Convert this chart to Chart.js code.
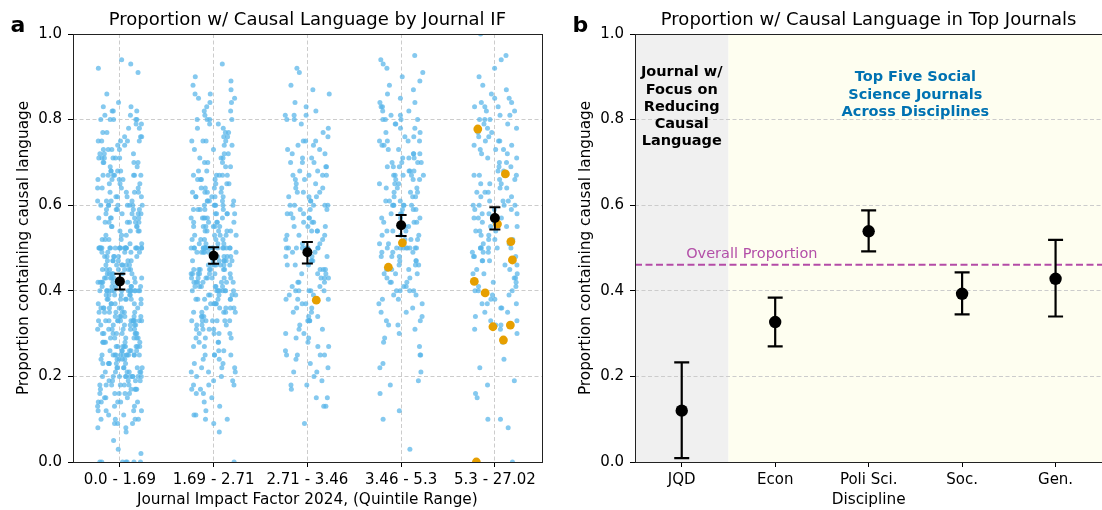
<!DOCTYPE html>
<html>
<head>
<meta charset="utf-8">
<script src="https://cdn.jsdelivr.net/npm/chart.js@4.4.1/dist/chart.umd.min.js"></script>
<style>
  html, body { margin: 0; padding: 0; background: #fff; width: 1102px; height: 510px; overflow: hidden; }
  canvas { position: absolute; top: 0; }
  #panelA { left: 0; }
  #panelB { left: 562px; }
</style>
</head>
<body>
<canvas id="panelA" width="550" height="510"></canvas>
<canvas id="panelB" width="550" height="510"></canvas>
<script>
/* ==============================
   DATA
================================ */
const impactBins = ["0.0 - 1.69", "1.69 - 2.71", "2.71 - 3.46", "3.46 - 5.3", "5.3 - 27.02"];
const yTicks = [0, 0.2, 0.4, 0.6, 0.8, 1.0];

// per-journal proportion (in %) for each impact-factor quintile
const bin0 = [0,0,0,0,0,0,0,2,3,5,
  7,8,8,9,9,9,10,10,10,10,11,11,12,12,12,13,13,13,
  14,14,14,14,15,15,15,16,16,16,16,17,17,17,17,17,18,18,18,18,18,19,19,19,19,
  20,20,20,20,20,20,20,20,20,21,21,21,21,21,22,22,22,22,22,23,23,23,23,23,24,24,24,24,
  25,25,25,25,25,25,25,25,25,25,25,26,26,26,26,26,27,27,27,27,27,27,27,28,28,28,28,28,29,29,29,29,29,
  30,30,30,30,30,30,30,31,31,31,31,31,32,32,32,32,32,33,33,33,33,33,33,33,33,33,33,33,33,34,34,34,34,34,
  35,35,35,35,35,35,36,36,36,36,36,36,37,37,37,37,37,38,38,38,38,38,38,39,39,39,39,39,
  40,40,40,40,40,40,40,40,40,40,40,40,40,40,41,41,41,41,41,42,42,42,42,42,42,43,43,43,43,43,43,
  44,44,44,44,44,45,45,45,45,45,45,46,46,46,46,46,47,47,47,47,47,48,48,48,48,48,49,49,49,49,
  50,50,50,50,50,50,50,50,50,50,50,50,50,50,50,50,50,50,50,50,50,50,
  51,51,52,52,52,53,53,53,54,54,54,55,55,55,55,56,56,56,56,56,57,57,57,57,58,58,58,58,58,59,59,59,59,
  60,60,60,60,60,60,60,60,61,61,61,62,62,62,62,63,63,63,64,64,64,65,65,65,66,66,66,67,67,67,67,67,67,67,68,68,68,69,69,
  70,70,70,70,71,71,71,71,71,72,72,72,73,73,73,74,74,75,75,75,75,75,76,76,77,77,78,78,79,79,
  80,80,80,80,80,81,81,82,82,82,83,83,84,86,91,92,93,94,
  12,14,16,18,19,20,21,22,23,24,25,26,27,28,29,30,31,32,33,34,35,36,37,38,39,
  40,41,42,43,44,45,46,47,48,49,52,54,56,57,59,61,63,64,66,68,71,73,76];
const bin1 = [0,7,9,10,10,11,11,
  12,13,14,15,16,16,17,17,18,18,18,19,19,
  20,20,21,21,21,22,22,22,23,23,24,24,25,25,25,25,26,26,27,27,28,28,28,29,29,29,
  30,30,30,30,31,31,31,32,32,32,33,33,33,33,33,33,34,34,34,35,35,35,35,36,36,36,36,37,37,37,37,38,38,38,38,38,39,39,39,39,
  40,40,40,40,40,40,40,40,40,41,41,41,41,41,42,42,42,42,42,42,43,43,43,43,43,43,44,44,44,44,44,44,
  45,45,45,45,45,45,46,46,46,46,46,46,47,47,47,47,47,47,48,48,48,48,48,49,49,49,49,49,
  50,50,50,50,50,50,50,50,50,50,50,50,50,50,50,50,50,50,
  51,51,51,52,52,52,52,53,53,53,53,54,54,54,54,55,55,55,55,55,56,56,56,56,57,57,57,57,57,58,58,58,58,59,59,59,59,
  60,60,60,60,60,60,61,61,61,61,62,62,62,62,63,63,63,64,64,64,65,65,65,66,66,66,67,67,67,67,67,68,68,69,69,
  70,70,70,71,71,71,72,72,73,73,74,74,75,75,75,75,76,76,77,77,78,78,79,79,
  80,80,80,80,81,82,82,83,84,84,85,85,86,86,87,88,89,90,93,
  31,33,35,36,37,38,39,41,42,43,44,45,46,47,48,49,51,52,53,54,55,56,57,58,59,61,62,63,64,66];
const bin2 = [9,13,13,15,15,17,18,18,19,
  20,21,21,22,23,24,25,25,25,25,26,27,27,28,29,29,
  30,30,31,31,32,33,33,33,33,34,34,35,35,36,36,37,37,38,38,38,39,39,
  40,40,40,40,40,41,41,42,42,42,43,43,43,44,44,44,45,45,45,46,46,46,47,47,47,48,48,48,49,49,
  50,50,50,50,50,50,50,50,
  51,51,52,52,53,53,53,54,54,54,55,55,55,56,56,56,57,57,57,58,58,58,59,59,59,
  60,60,60,60,60,61,61,62,62,62,63,63,63,64,64,65,65,66,66,67,67,67,67,68,68,69,69,
  70,70,70,71,71,72,72,73,73,74,74,75,75,75,76,77,78,79,
  80,80,81,81,81,82,83,84,86,87,88,91,92];
const bin3 = [3,10,12,16,18,19,
  21,22,23,25,25,27,28,29,
  30,31,32,32,33,33,34,35,35,36,37,37,38,38,39,39,
  40,40,40,40,41,41,42,42,42,43,43,44,44,44,45,45,45,46,46,46,47,47,47,48,48,48,49,49,49,
  50,50,50,50,50,50,50,50,50,
  51,51,52,52,52,53,53,53,54,54,54,55,55,55,55,56,56,56,57,57,57,58,58,58,59,59,59,
  60,60,60,60,60,60,61,61,61,62,62,62,63,63,63,64,64,64,65,65,65,66,66,66,67,67,67,67,67,68,68,68,69,69,69,
  70,70,70,70,71,71,71,72,72,72,73,73,74,74,75,75,75,75,76,76,77,77,78,78,79,79,
  80,80,80,80,81,81,82,82,83,83,84,84,85,86,87,88,89,
  90,91,92,93,94,95];
const bin4 = [0,8,10,10,15,16,18,19,
  22,24,28,
  30,31,31,32,32,33,33,34,35,35,36,36,37,37,37,38,38,39,39,
  40,40,40,41,41,42,42,43,43,44,44,44,45,45,46,46,47,47,47,48,48,48,49,49,49,
  50,50,50,50,50,50,
  51,51,52,52,52,53,53,54,54,54,55,55,55,56,56,57,57,57,58,58,58,59,59,59,
  60,60,60,60,61,61,61,62,62,63,63,63,64,64,65,65,65,66,66,67,67,67,67,68,68,69,69,
  70,70,71,71,72,72,73,73,73,74,74,75,75,75,76,76,77,77,78,78,79,79,
  80,80,80,81,81,82,82,83,83,83,84,84,85,85,86,87,88,
  90,92,94,95,100];

// highlighted (orange) journals, in %
const orange0 = [];
const orange1 = [];
const orange2 = [37.8];
const orange3 = [51.2, 45.5];
const orange4 = [77.8, 67.3, 55.6, 51.5, 47.2, 42.2, 39.5, 32.0, 31.6, 28.5, 0];

// mean and 95% CI per quintile
const binMean = [0.422, 0.482, 0.490, 0.553, 0.570];
const binLow  = [0.403, 0.463, 0.464, 0.528, 0.543];
const binHigh = [0.440, 0.502, 0.514, 0.577, 0.595];

// panel b
const disciplines = ["JQD", "Econ", "Poli Sci.", "Soc.", "Gen."];
const discMean = [0.120, 0.327, 0.539, 0.393, 0.428];
const discLow  = [0.009, 0.270, 0.492, 0.345, 0.340];
const discHigh = [0.233, 0.384, 0.588, 0.443, 0.519];
const overallProportion = 0.461;

/* ==============================
   STYLE HELPERS
================================ */
Chart.defaults.font.family = "'DejaVu Sans', sans-serif";
Chart.defaults.color = "#000";
Chart.defaults.animation = false;

const GRID = "#cccccc";
const DASH = [4, 2.5];

// sideways scatter of the strip plot (fixed integer hash, so the picture is stable)
function spread(i, k) {
    let n = (i * 7919 + k * 104729 + 12345) | 0;
    n = (n ^ 61) ^ (n >>> 16);
    n = n + (n << 3);
    n = n ^ (n >>> 4);
    n = Math.imul(n, 0x27d4eb2d);
    n = n ^ (n >>> 15);
    return ((n >>> 0) / 4294967296 - 0.5) * 0.48;
}

function yAxis() {
    return {
        type: "linear", min: 0, max: 1,
        afterBuildTicks: s => { s.ticks = yTicks.map(v => ({ value: v })); },
        afterFit: s => { s.width = 73; },
        ticks: { callback: v => v.toFixed(1), font: { size: 15 }, padding: 6 },
        grid: {
            color: c => (c.tick && (c.tick.value === 0 || c.tick.value === 1)) ? "rgba(0,0,0,0)" : GRID,
            borderDash: DASH, tickLength: 5, tickColor: "#000", tickWidth: 1, tickBorderDash: []
        },
        border: { display: false, dash: DASH },
        title: {
            display: true, text: "Proportion containing causal language",
            font: { size: 15.3 }, padding: { top: 15, bottom: 0 }
        }
    };
}

function xAxis(labels, title, vgrid) {
    return {
        type: "linear", min: -0.5, max: 4.5,
        afterBuildTicks: s => { s.ticks = labels.map((l, i) => ({ value: i })); },
        afterFit: s => { s.height = 48; },
        ticks: { callback: v => labels[v], autoSkip: false, maxRotation: 0, font: { size: 15 }, padding: 4 },
        grid: {
            color: GRID, drawOnChartArea: vgrid, borderDash: DASH,
            tickLength: 5, tickColor: "#000", tickWidth: 1, tickBorderDash: []
        },
        border: { display: false, dash: DASH },
        title: { display: true, text: title, font: { size: 15.3 }, padding: { top: 0, bottom: 1 } }
    };
}

function errorBars(means, lows, highs, cap, width) {
    return means.map((m, i) => ({
        type: "line",
        data: [{ x: i, y: lows[i] }, { x: i, y: highs[i] }],
        borderColor: "#000", borderWidth: width,
        pointStyle: "line", pointRadius: cap, pointBorderWidth: width,
        pointBorderColor: "#000", pointBackgroundColor: "#000",
        order: 1
    }));
}

function meanDots(means, r) {
    return {
        type: "scatter",
        data: means.map((m, i) => ({ x: i, y: m })),
        pointRadius: r, backgroundColor: "#000", pointBorderWidth: 0, borderWidth: 0,
        order: 0
    };
}

function titleOpts(text) {
    return {
        display: true, fullSize: false, text: text,
        font: { size: 18, weight: "normal" }, padding: { top: 9.4, bottom: 3 }
    };
}

/* ==============================
   PLUGINS
================================ */
const frame = {
    id: "frame",
    afterDatasetsDraw(chart) {
        const { ctx, chartArea: a } = chart;
        ctx.save();
        ctx.strokeStyle = "#222";
        ctx.lineWidth = 1;
        ctx.strokeRect(Math.round(a.left) + 0.5, Math.round(a.top) + 0.5,
            Math.round(a.right - a.left), Math.round(a.bottom - a.top));
        ctx.restore();
    }
};

function letter(txt) {
    return {
        id: "letter" + txt,
        afterDraw(chart) {
            const ctx = chart.ctx;
            ctx.save();
            ctx.font = "bold 22px 'DejaVu Sans'";
            ctx.fillStyle = "#000";
            ctx.textBaseline = "alphabetic";
            ctx.fillText(txt, 10.5, 32);
            ctx.restore();
        }
    };
}

const bands = {
    id: "bands",
    beforeDraw(chart) {
        const { ctx, chartArea: a, scales: { x } } = chart;
        const mid = x.getPixelForValue(0.5);
        ctx.save();
        ctx.fillStyle = "#f0f0f0";
        ctx.fillRect(a.left, a.top, mid - a.left, a.bottom - a.top);
        ctx.fillStyle = "#fefef0";
        ctx.fillRect(mid, a.top, a.right - mid, a.bottom - a.top);
        ctx.restore();
    }
};

const notes = {
    id: "notes",
    afterDraw(chart) {
        const { ctx, scales: { x, y } } = chart;
        ctx.save();
        ctx.textAlign = "center";
        ctx.textBaseline = "middle";
        ctx.font = "bold 14.5px 'DejaVu Sans'";
        ctx.fillStyle = "#000";
        ["Journal w/", "Focus on", "Reducing", "Causal", "Language"].forEach((t, i) => {
            ctx.fillText(t, x.getPixelForValue(0), y.getPixelForValue(0.910) + i * 17.3);
        });
        ctx.fillStyle = "#0072B2";
        ["Top Five Social", "Science Journals", "Across Disciplines"].forEach((t, i) => {
            ctx.fillText(t, x.getPixelForValue(2.5), y.getPixelForValue(0.898) + i * 17.2);
        });
        ctx.font = "14.5px 'DejaVu Sans'";
        ctx.fillStyle = "#b34fa8";
        ctx.textBaseline = "alphabetic";
        ctx.fillText("Overall Proportion", x.getPixelForValue(0.75), y.getPixelForValue(0.477));
        ctx.restore();
    }
};

/* ==============================
   PANEL A
================================ */
const blueSets = [bin0, bin1, bin2, bin3, bin4].map((vals, k) => ({
    type: "scatter",
    data: vals.map((v, i) => ({ x: k + spread(i, k), y: v / 100 })),
    pointRadius: 2.5, backgroundColor: "rgba(86,180,233,0.72)", pointBorderWidth: 0, borderWidth: 0,
    order: 3
}));

const orangeSets = [orange0, orange1, orange2, orange3, orange4].map((vals, k) => ({
    type: "scatter",
    data: vals.map((v, i) => ({ x: k + spread(i + 500, k + 7), y: v / 100 })),
    pointRadius: 4.4, backgroundColor: "#E69F00", pointBorderWidth: 0, borderWidth: 0,
    order: 2
}));

new Chart(document.getElementById("panelA"), {
    type: "scatter",
    data: {
        datasets: [
            meanDots(binMean, 5),
            ...errorBars(binMean, binLow, binHigh, 5.5, 2),
            ...orangeSets,
            ...blueSets
        ]
    },
    options: {
        responsive: false,
        events: [],
        layout: { padding: { left: 0, right: 8.25, top: 0, bottom: 0 } },
        plugins: {
            legend: { display: false },
            tooltip: { enabled: false },
            title: titleOpts("Proportion w/ Causal Language by Journal IF")
        },
        scales: { x: xAxis(impactBins, "Journal Impact Factor 2024, (Quintile Range)", true), y: yAxis() }
    },
    plugins: [frame, letter("a")]
});

/* ==============================
   PANEL B
================================ */
new Chart(document.getElementById("panelB"), {
    type: "scatter",
    data: {
        datasets: [
            meanDots(discMean, 6.2),
            ...errorBars(discMean, discLow, discHigh, 7.5, 2.2),
            {
                type: "line",
                data: [{ x: -0.5, y: overallProportion }, { x: 4.5, y: overallProportion }],
                borderColor: "#b44ba6", borderWidth: 2, borderDash: [7, 3.5],
                pointRadius: 0, order: 3
            }
        ]
    },
    options: {
        responsive: false,
        events: [],
        layout: { padding: { left: 0, right: 8.25, top: 0, bottom: 0 } },
        plugins: {
            legend: { display: false },
            tooltip: { enabled: false },
            title: titleOpts("Proportion w/ Causal Language in Top Journals")
        },
        scales: { x: xAxis(disciplines, "Discipline", false), y: yAxis() }
    },
    plugins: [bands, frame, notes, letter("b")]
});
</script>
</body>
</html>
